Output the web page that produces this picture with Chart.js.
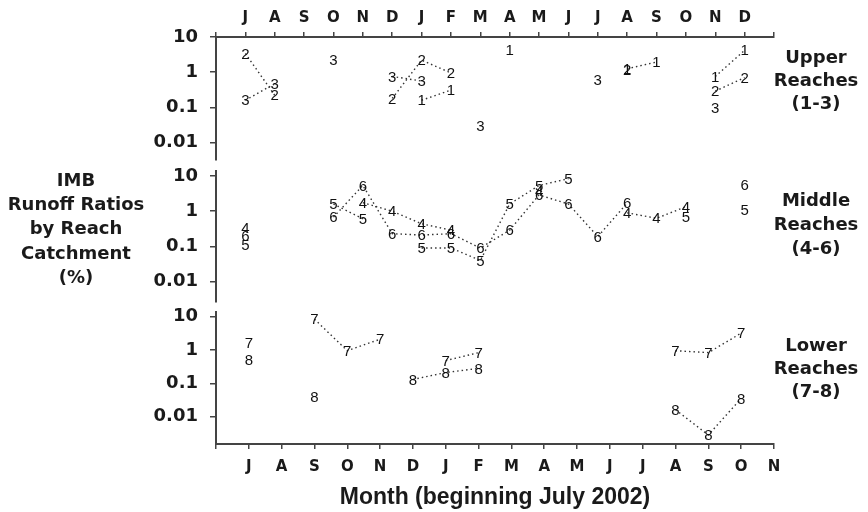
<!DOCTYPE html>
<html>
<head>
<meta charset="utf-8">
<script src="https://cdn.jsdelivr.net/npm/chart.js@4.4.1/dist/chart.umd.min.js"></script>
<style>
  body { margin: 0; background: #fff; }
  #wrap { position: relative; width: 868px; height: 512px; overflow: hidden; }
  #wrap canvas { position: absolute; left: 0; top: 0; }
  .lbl { position: absolute; font-family: "DejaVu Sans", sans-serif; font-weight: bold; font-size: 18px; line-height: 23px; text-align: center; color: #1a1a1a; }
</style>
</head>
<body>
<div id="wrap">
  <canvas id="upper" width="868" height="512"></canvas>
  <canvas id="middle" width="868" height="512"></canvas>
  <canvas id="lower" width="868" height="512"></canvas>
  <div class="lbl" style="left:0;top:168px;width:152px;line-height:24.2px">IMB<br>Runoff Ratios<br>by Reach<br>Catchment<br>(%)</div>
  <div class="lbl" style="left:766px;top:45px;width:100px">Upper<br>Reaches<br>(1-3)</div>
  <div class="lbl" style="left:766px;top:188px;width:100px;line-height:24px">Middle<br>Reaches<br>(4-6)</div>
  <div class="lbl" style="left:766px;top:333px;width:100px">Lower<br>Reaches<br>(7-8)</div>
</div>
<script>
// month ticks: upper/middle panels use the top axis, lower panel its own bottom axis
const topMonths = ["", "J", "A", "S", "O", "N", "D", "J", "F", "M", "A", "M", "J", "J", "A", "S", "O", "N", "D", ""];
const bottomMonths = ["", "J", "A", "S", "O", "N", "D", "J", "F", "M", "A", "M", "J", "J", "A", "S", "O", "N"];
const yTicks = [10, 1, 0.1, 0.01];

// upper reaches (top axis positions)
const reach1 = [null, null, null, null, null, null, null, 0.16, 0.31, null, 4.4, null, null, null, 1.25, 1.95, null, 0.76, 4.2, null];
const reach2 = [null, 3.4, 0.22, null, null, null, 0.18, 2.2, 0.95, null, null, null, null, null, 1.2, null, null, 0.29, 0.70, null];
const reach3 = [null, 0.16, 0.47, null, 2.2, null, 0.76, 0.56, null, 0.029, null, null, null, 0.62, null, null, null, 0.099, null, null];

// middle reaches
const reach4 = [null, 0.33, null, null, null, 1.75, 1.0, 0.44, 0.29, null, null, 3.9, null, null, 0.9, 0.63, 1.34, null, null, null];
const reach5 = [null, 0.11, null, null, 1.6, 0.61, null, 0.09, 0.09, 0.04, 1.6, 5.4, 8.4, null, null, null, 0.70, null, 1.08, null];
const reach6 = [null, 0.20, null, null, 0.68, 5.4, 0.23, 0.21, 0.23, 0.09, 0.29, 2.9, 1.6, 0.19, 1.7, null, null, null, 5.5, null];

// lower reaches (bottom axis positions)
const reach7 = [null, 1.66, null, 8.4, 0.95, 2.1, null, 0.48, 0.83, null, null, null, null, null, 0.95, 0.83, 3.2, null];
const reach8 = [null, 0.5, null, 0.038, null, null, 0.13, 0.21, 0.28, null, null, null, null, null, 0.016, 0.0028, 0.035, null];

const axisColor = "#444";
const inkColor = "#1a1a1a";

// each point is marked by its reach number, written at the point's position
const digitLabels = {
  id: "digitLabels",
  afterDatasetsDraw(chart) {
    const ctx = chart.ctx;
    ctx.save();
    ctx.font = '15px "Liberation Sans", Arial, sans-serif';
    ctx.fillStyle = "#111";
    ctx.textAlign = "center";
    ctx.textBaseline = "middle";
    chart.data.datasets.forEach((ds, i) => {
      chart.getDatasetMeta(i).data.forEach((pt, j) => {
        if (ds.data[j] == null) return;
        ctx.fillText(ds.label, pt.x, pt.y + 1);
      });
    });
    ctx.restore();
  }
};

function series(n, values) {
  return {
    label: String(n),
    data: values,
    pointRadius: 0,
    borderColor: "#333",
    borderWidth: 1.4,
    borderDash: [1.5, 3],
    backgroundColor: "transparent",
    fill: false,
    tension: 0,
    spanGaps: false,
    clip: false
  };
}

function yAxis(min, max) {
  return {
    type: "logarithmic",
    min: min,
    max: max,
    afterFit: s => { s.width = 216; },
    afterBuildTicks: s => { s.ticks = yTicks.map(v => ({ value: v })); },
    ticks: {
      callback: v => String(v),
      color: inkColor,
      padding: 12,
      font: { family: '"DejaVu Sans", sans-serif', weight: "bold", size: 18 }
    },
    grid: { drawOnChartArea: false, tickLength: 6, color: axisColor, lineWidth: 1.5 },
    border: { color: axisColor, width: 2 }
  };
}

function monthAxis(labels, position, height, title) {
  return {
    type: "category",
    labels: labels,
    position: position,
    offset: false,
    afterFit: s => { s.height = height; },
    ticks: {
      autoSkip: false,
      maxRotation: 0,
      padding: position === "top" ? 5 : 9,
      color: inkColor,
      font: { family: '"DejaVu Sans", sans-serif', weight: "bold", size: 15 }
    },
    grid: { drawOnChartArea: false, tickLength: 5, color: axisColor, lineWidth: 1.5 },
    border: { color: axisColor, width: 2 },
    title: title ? {
      display: true,
      text: title,
      color: inkColor,
      font: { family: '"Liberation Sans", Arial, sans-serif', weight: "bold", size: 23, lineHeight: 1.2 },
      padding: { top: 0, bottom: 1 }
    } : { display: false }
  };
}

function panel(id, datasets, xScale, yScale, padding) {
  new Chart(document.getElementById(id), {
    type: "line",
    data: { datasets: datasets },
    options: {
      responsive: false,
      animation: false,
      events: [],
      devicePixelRatio: 1,
      layout: { padding: padding },
      plugins: { legend: { display: false }, tooltip: { enabled: false } },
      scales: { x: xScale, y: yScale }
    },
    plugins: [digitLabels]
  });
}

panel("upper",
  [series(1, reach1), series(2, reach2), series(3, reach3)],
  monthAxis(topMonths, "top", 37),
  yAxis(0.0032, 10),
  { left: 0, right: 94, top: 0, bottom: 352 });

const hiddenX = { type: "category", labels: topMonths, offset: false, display: false };
panel("middle",
  [series(4, reach4), series(5, reach5), series(6, reach6)],
  hiddenX,
  yAxis(0.00263, 13.9),
  { left: 0, right: 94, top: 171, bottom: 210 });

panel("lower",
  [series(7, reach7), series(8, reach8)],
  monthAxis(bottomMonths, "bottom", 68, "Month (beginning July 2002)"),
  yAxis(0.0015, 13.8),
  { left: 0, right: 94, top: 312, bottom: 0 });
</script>
</body>
</html>
